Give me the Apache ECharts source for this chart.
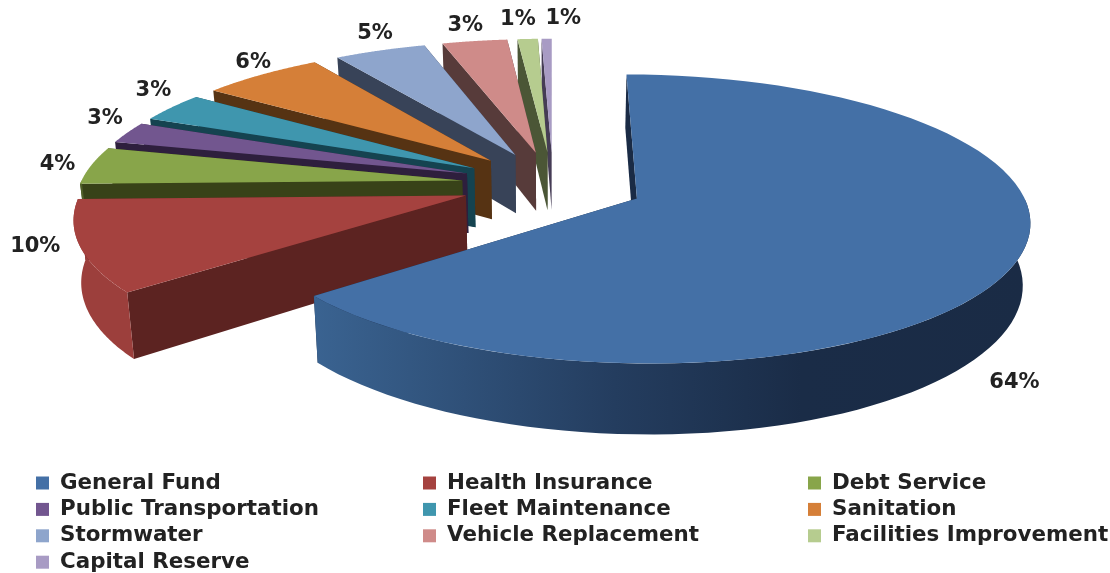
<!DOCTYPE html>
<html>
<head>
<meta charset="utf-8">
<style>
html, body { margin: 0; padding: 0; background: #fff; }
#chart { width: 1110px; height: 573px; }
</style>
<script src="https://cdn.jsdelivr.net/npm/echarts@6/dist/echarts.min.js"></script>
</head>
<body>
<div id="chart"></div>
<script>
var categories = ['General Fund', 'Health Insurance', 'Debt Service', 'Public Transportation', 'Fleet Maintenance',
    'Sanitation', 'Stormwater', 'Vehicle Replacement', 'Facilities Improvement', 'Capital Reserve'];
// the printed labels are rounded
var values = [64.2, 10.4, 4.3, 2.5, 3.4, 6.0, 4.5, 3.2, 1.0, 0.5];
var percentLabels = ['64%', '10%', '4%', '3%', '3%', '6%', '5%', '3%', '1%', '1%'];

var topColors = ['#4470a6', '#a5423f', '#88a54a', '#72568f', '#3f96ae', '#d57f38', '#8ea5cc', '#cf8b89', '#b6cc8f', '#a89bc4'];
var faceColors = ['#1a2b45', '#5c2321', '#384218', '#2e1f3d', '#154350', '#563313', '#384358', '#573b3a', '#4b5636', '#453c55'];
var wallColors = ['#1a2b45', '#9c3f3c', '#4f6029', '#2e1f3d', '#154350', '#563313', '#384358', '#573b3a', '#4b5636', '#453c55'];
// label nudges from the computed anchor, the original labels were placed by hand
var labelNudge = [[-41, 112], [-4, -5], [3, 0], [10, -10], [10, -11], [13, -5], [7, -8], [-4, -6], [-8, -10], [17, -10]];

// fake 3d projection
var CX = 553, CY = 184, R = 382, TILT = 0.36, PERSP = 0.14, EXPLODE = 0.24, DEPTH = 60, SHRINK = 0.016;

function project(wx, wz, down) {
    var s = 1 / (1 - wz * PERSP);
    var x = CX + wx * R * s;
    if (down) {
        x = CX + (x - CX) * (1 - SHRINK);
    }
    return [x, CY + wz * TILT * R * s + (down ? DEPTH * s : 0)];
}

var total = 0;
for (var i = 0; i < values.length; i++) {
    total += values[i];
}

function sliceAngles(index) {
    var before = 0;
    for (var k = 0; k < index; k++) {
        before += values[k];
    }
    return [before / total * Math.PI * 2, (before + values[index]) / total * Math.PI * 2];
}

function renderSlice(params, api) {
    var index = params.seriesIndex;
    var ang = sliceAngles(index);
    var mid = (ang[0] + ang[1]) / 2;
    var ax = EXPLODE * Math.sin(mid), az = -EXPLODE * Math.cos(mid);

    function rim(a, r) {
        return [ax + Math.sin(a) * r, az - Math.cos(a) * r];
    }
    function polygon(points, fill) {
        return { type: 'polygon', shape: { points: points }, style: { fill: fill }, silent: true };
    }
    function cutFace(a) {
        var p = rim(a, 1);
        return polygon([project(ax, az), project(p[0], p[1]), project(p[0], p[1], true), project(ax, az, true)], faceColors[index]);
    }

    var faces = [
        { z: rim(ang[0], 0.5)[1], el: cutFace(ang[0]) },
        { z: rim(ang[1], 0.5)[1], el: cutFace(ang[1]) }
    ];

    // outer wall only where the rim faces the viewer
    var wallFrom = Math.max(ang[0], Math.PI / 2), wallTo = Math.min(ang[1], Math.PI * 1.5);
    if (wallTo > wallFrom) {
        var upper = [], lower = [];
        for (var n = 0; n <= 60; n++) {
            var p = rim(wallFrom + (wallTo - wallFrom) * n / 60, 1);
            upper.push(project(p[0], p[1]));
            lower.unshift(project(p[0], p[1], true));
        }
        var fill = wallColors[index];
        if (index == 0) {
            fill = new echarts.graphic.LinearGradient(0, 0, 1, 0, [
                { offset: 0, color: '#3a6391' },
                { offset: 0.42, color: '#243d5f' },
                { offset: 0.68, color: '#1a2c47' },
                { offset: 1, color: '#1a2b45' }
            ]);
        }
        faces.push({ z: 2, el: polygon(upper.concat(lower), fill) });
    }
    faces.sort(function (a, b) { return a.z - b.z; });

    var top = [project(ax, az)];
    for (var m = 0; m <= 80; m++) {
        var q = rim(ang[0] + (ang[1] - ang[0]) * m / 80, 1);
        top.push(project(q[0], q[1]));
    }

    var children = faces.map(function (f) { return f.el; });
    children.push(polygon(top, topColors[index]));

    // label
    var l = rim(mid, 1.1);
    var pos = project(l[0], l[1]);
    children.push({
        type: 'text',
        silent: true,
        style: {
            x: pos[0] + labelNudge[index][0],
            y: pos[1] + labelNudge[index][1],
            text: percentLabels[index],
            fill: '#222222',
            font: 'bold 21px "DejaVu Sans"',
            align: 'center',
            verticalAlign: 'middle'
        }
    });
    return { type: 'group', children: children };
}

var series = [];
for (var j = 0; j < categories.length; j++) {
    series.push({
        name: categories[j],
        type: 'custom',
        coordinateSystem: 'none',
        renderItem: renderSlice,
        z: j == 0 ? 20 : 20 - j,
        itemStyle: { color: topColors[j] },
        animation: false,
        data: [values[j]]
    });
}

function legendColumn(left, names) {
    return {
        left: left,
        top: 472,
        height: 110,
        orient: 'vertical',
        padding: 0,
        itemGap: 4.4,
        itemWidth: 13,
        itemHeight: 13,
        icon: 'rect',
        selectedMode: false,
        textStyle: { color: '#222222', fontSize: 21.4, fontWeight: 'bold', fontFamily: 'DejaVu Sans', padding: [0, 0, 0, 6], lineHeight: 22 },
        data: names
    };
}

var myChart = echarts.init(document.getElementById('chart'));
myChart.setOption({
    backgroundColor: '#ffffff',
    animation: false,
    tooltip: { show: false },
    legend: [
        legendColumn(36, [categories[0], categories[3], categories[6], categories[9]]),
        legendColumn(423, [categories[1], categories[4], categories[7]]),
        legendColumn(808, [categories[2], categories[5], categories[8]])
    ],
    series: series
});
</script>
</body>
</html>
